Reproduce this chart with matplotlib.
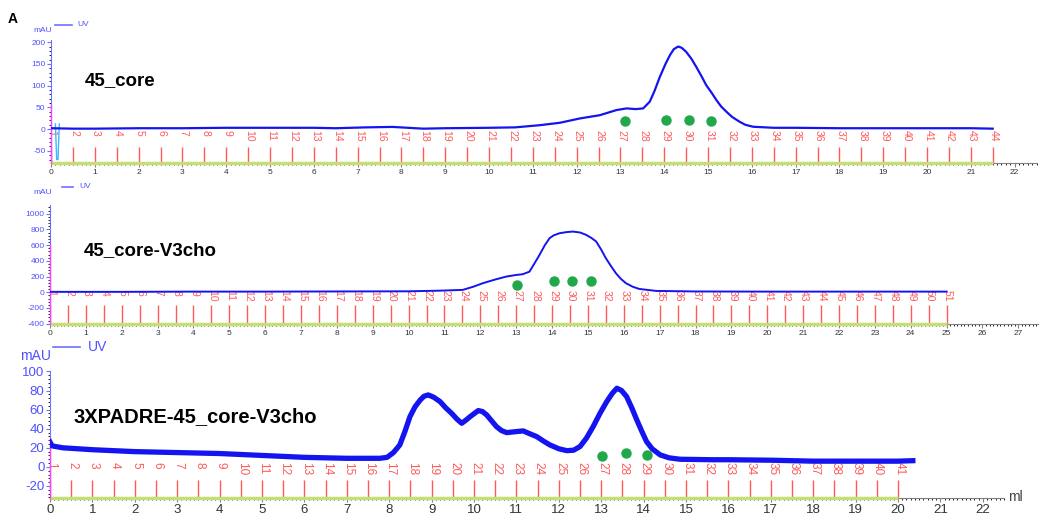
import matplotlib
matplotlib.use("Agg")
import matplotlib.pyplot as plt
from matplotlib.ticker import MultipleLocator, AutoMinorLocator

plt.rcParams['font.family'] = ['Liberation Sans', 'DejaVu Sans']
plt.rcParams['axes.unicode_minus'] = False

# ---- data ----
# panel 1: 45_core
p1_ml = [0, 0.5, 1, 2, 3, 4, 5, 6, 6.5, 7.2, 7.8, 8.5, 9, 10, 10.6, 11.16, 11.62,
         12.08, 12.53, 12.91, 13.14, 13.35, 13.52, 13.67, 13.78, 13.9, 14.03, 14.13,
         14.22, 14.32, 14.4, 14.5, 14.62, 14.73, 14.85, 14.96, 15.08, 15.19, 15.3,
         15.42, 15.55, 15.72, 15.85, 16.03, 16.5, 17, 18, 19, 20, 21, 21.5]
p1_mau = [2, 1, 1, 2, 2, 3, 3, 3, 2, 4, 5, 1, 2, 3, 4, 9, 14.6,
          24.6, 32, 43.8, 47.6, 46, 47.6, 63, 88, 120, 150, 170,
          184, 190, 187, 178, 162, 143.5, 122, 101, 84, 67, 52,
          40, 28, 17, 10, 5.4, 3, 3, 2, 2, 2, 2, 1]
p1_spike_ml = [0.1, 0.13, 0.16, 0.19]
p1_spike_mau = [12, -70, -70, 12]
p1_dots_ml = [13.1, 14.05, 14.56, 15.06]
p1_dots_mau = [19, 21, 20, 18]

# panel 2: 45_core-V3cho
p2_ml = [0, 2, 4, 6, 8, 10, 10.86, 11.51, 11.8, 12.07, 12.4, 12.72, 13.0, 13.18,
         13.37, 13.5, 13.65, 13.8, 13.93, 14.05, 14.21, 14.4, 14.58, 14.78, 14.95,
         15.1, 15.23, 15.36, 15.5, 15.64, 15.78, 15.92, 16.06, 16.25, 16.43, 16.9,
         18, 20, 22, 24, 25]
p2_mau = [5, 5, 8, 8, 10, 12, 20, 30, 70, 115, 160, 199, 220, 229,
          262, 360, 475, 600, 688, 725, 751, 765, 772, 760, 730,
          690, 645, 550, 433, 335, 242, 170, 115, 70, 42, 17,
          10, 8, 8, 8, 8]
p2_dots_ml = [13.03, 14.04, 14.55, 15.09]
p2_dots_mau = [93, 148, 148, 148]

# panel 3: 3XPADRE-45_core-V3cho
p3_ml = [0, 0.05, 0.3, 1, 2, 3, 4, 5, 6, 7, 7.78, 7.95, 8.1, 8.25, 8.37, 8.49, 8.61,
         8.73, 8.82, 8.92, 9.05, 9.2, 9.33, 9.47, 9.6, 9.71, 9.81, 9.91, 10.1, 10.2,
         10.3, 10.42, 10.53, 10.65, 10.77, 11.0, 11.16, 11.3, 11.48, 11.64, 11.79,
         12.0, 12.19, 12.35, 12.5, 12.65, 12.81, 12.97, 13.13, 13.26, 13.37, 13.48,
         13.6, 13.72, 13.84, 13.96, 14.07, 14.2, 14.39, 14.6, 14.86, 15.64, 16, 17,
         18, 19, 20, 20.35]
p3_mau = [26, 22, 20, 18, 16, 15, 14, 12, 10, 9, 9, 10, 15, 23, 37, 52.7, 63,
          70, 74, 75.4, 73, 68.4, 62, 56.2, 50, 45.7, 49, 52.7, 59, 58,
          54.4, 48, 42.2, 38, 35.9, 37, 37.7, 35, 31.7, 27, 23,
          19, 17, 17.5, 21.3, 30, 42.2, 56, 68.4, 77, 82.4, 80,
          73.6, 62, 49.2, 37, 26.5, 19, 12.6, 9.5, 8, 7.5, 7.5, 7,
          6, 6, 6, 6.5]
p3_dots_ml = [13.03, 13.58, 14.07]
p3_dots_mau = [11.5, 14.3, 12.6]

# fractions: number of fractions, 0.5 ml each, fraction 1 at 0 ml
frac_step = 0.5
p1_nfrac = 44
p2_nfrac = 51
p3_nfrac = 41

W, H = 1042, 514
fig = plt.figure(figsize=(W / 100, H / 100), dpi=100)

BLUE = '#1414f0'
AXBLUE = '#7070ff'
RED = '#ff3c3c'


def px(x0, y0, x1, y1):
    # pixel box (top-left origin) -> figure fraction rect
    return [x0 / W, 1 - y1 / H, (x1 - x0) / W, (y1 - y0) / H]


def panel(rect, xmax, ylim, ystep, ml, mau, lw, nfrac, lab_top, line_top,
          dots_ml, dots_mau, title, title_xy, title_fs, tick_fs, frac_fs, mag_top):
    ax = fig.add_axes(rect)
    ax.set_xlim(0, xmax)
    ax.set_ylim(*ylim)
    for s in ['top', 'right']:
        ax.spines[s].set_visible(False)
    ax.spines['left'].set_color(AXBLUE)
    ax.spines['bottom'].set_color('#808080')
    ax.xaxis.set_major_locator(MultipleLocator(1))
    ax.xaxis.set_minor_locator(MultipleLocator(0.1))
    ax.yaxis.set_major_locator(MultipleLocator(ystep))
    ax.yaxis.set_minor_locator(AutoMinorLocator(5))
    ax.tick_params(axis='x', colors='#808080', labelcolor='#333333', labelsize=tick_fs,
                   length=3, pad=1)
    ax.tick_params(axis='x', which='minor', length=1.5)
    ax.tick_params(axis='y', colors=AXBLUE, labelcolor='#5050ff', labelsize=tick_fs,
                   length=3, pad=1)
    ax.tick_params(axis='y', which='minor', length=1.5)

    fx = [i * frac_step for i in range(nfrac)]
    ax.vlines(fx, ylim[0], line_top, color=RED, lw=1, alpha=0.85)
    for i, x in enumerate(fx):
        ax.text(x + 0.03, lab_top, str(i + 1), rotation=-90, ha='center', va='top',
                color=RED, fontsize=frac_fs, alpha=0.85)
    ax.plot([0, fx[-1]], [ylim[0], ylim[0]], color='#c4de78', lw=2.5,
            clip_on=False, zorder=3, solid_capstyle='butt')
    ax.plot([0, 0], [ylim[0], mag_top], color='#ff40ff', lw=1, zorder=4, clip_on=False)
    ax.plot(ml, mau, color=BLUE, lw=lw, zorder=5, solid_joinstyle='round')
    ax.plot(dots_ml, dots_mau, 'o', color='#20a84a', ms=6.5, zorder=6)
    fig.text(title_xy[0] / W, 1 - title_xy[1] / H, title, fontsize=title_fs,
             fontweight='bold', va='center', ha='left')
    return ax


ax1 = panel(px(51, 40, 1036.5, 163), 22.5, (-78, 205), 50, p1_ml, p1_mau, 1.6,
            p1_nfrac, -2, -41, p1_dots_ml, p1_dots_mau, '45_core', (85, 81), 13.5,
            6, 7.5, 55)
ax1.plot(p1_spike_ml, p1_spike_mau, color='#40b8ff', lw=1, zorder=4)

ax2 = panel(px(50, 205, 1038, 324), 27.55, (-404, 1110), 200, p2_ml, p2_mau, 1.4,
            p2_nfrac, 25, -162, p2_dots_ml, p2_dots_mau, '45_core-V3cho', (84, 251),
            13.5, 6, 7.5, 600)

ax3 = panel(px(50, 370.5, 1004, 498), 22.5, (-32.6, 101), 20, p3_ml, p3_mau, 3.8,
            p3_nfrac, 5, -13.6, p3_dots_ml, p3_dots_mau, '3XPADRE-45_core-V3cho',
            (73, 417), 14.5, 9.5, 8.5, 30)

# axis captions / legends
for (mx, my, lx0, lx1, ly, ux, fs) in [(33, 31, 55, 72, 25, 77, 6),
                                       (33, 192, 62, 73, 187, 79, 6),
                                       (20, 356, 53, 80, 347, 88, 10)]:
    fig.text(mx / W, 1 - my / H, 'mAU', color='#5050ff', fontsize=fs, va='center')
    fig.add_artist(plt.Line2D([lx0 / W, lx1 / W], [1 - ly / H, 1 - ly / H],
                              color=AXBLUE, lw=1.2))
    fig.text(ux / W, 1 - ly / H, 'UV', color='#5050ff', fontsize=fs, va='center')

fig.text(1008 / W, 1 - 497 / H, 'ml', color='#444444', fontsize=10, va='center')
fig.text(8 / W, 1 - 19 / H, 'A', fontsize=10, fontweight='bold', va='center')

fig.savefig('out.png', dpi=100)
